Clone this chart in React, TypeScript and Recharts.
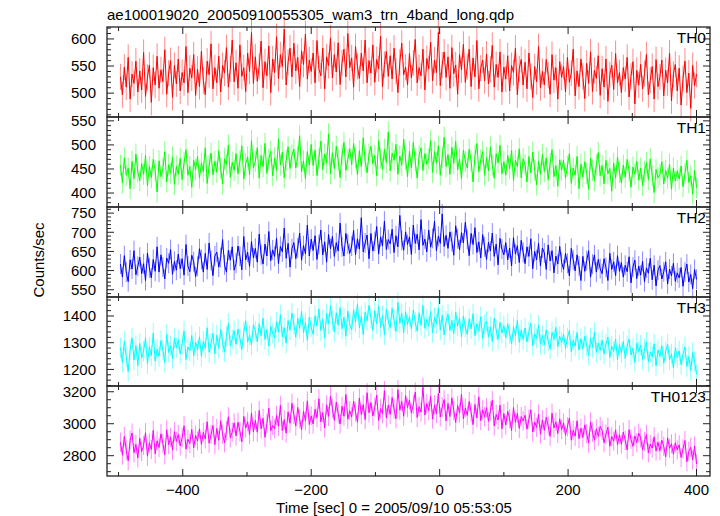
import React from 'react';
import { LineChart, Line, XAxis, YAxis, ErrorBar } from 'recharts';

// ---- data (counts/sec), bins of T_STEP seconds starting at T_START ----
const T_START = -497;
const T_STEP = 3;

const th0 = [
  530, 497, 548, 511, 566, 489, 535, 518, 559, 502,
  541, 506, 575, 494, 529, 552, 483, 547, 515, 568,
  509, 543, 521, 580, 498, 537, 560, 492, 551, 517,
  563, 504, 538, 519, 586, 501, 546, 528, 571, 496,
  544, 512, 577, 523, 497, 559, 534, 591, 508, 547,
  519, 568, 502, 551, 537, 584, 511, 545, 598, 521,
  556, 509, 589, 531, 547, 503, 574, 540, 612, 518,
  567, 522, 549, 596, 510, 558, 532, 587, 501, 563,
  538, 604, 527, 571, 549, 618, 515, 557, 583, 530,
  592, 541, 566, 512, 578, 553, 609, 526, 561, 540,
  574, 519, 597, 545, 532, 583, 508, 567, 551, 602,
  528, 571, 539, 593, 516, 556, 581, 530, 610, 547,
  565, 511, 586, 549, 527, 574, 541, 598, 519, 560,
  537, 589, 520, 562, 545, 605, 512, 553, 577, 531,
  569, 526, 583, 541, 501, 557, 592, 534, 548, 515,
  573, 528, 556, 599, 519, 547, 532, 581, 506, 564,
  545, 594, 523, 561, 538, 612, 514, 552, 576, 529,
  567, 509, 584, 536, 552, 498, 571, 543, 590, 520,
  549, 581, 512, 565, 530, 597, 508, 546, 561, 523,
  572, 517, 544, 588, 511, 553, 529, 576, 502, 548,
  526, 569, 504, 551, 538, 583, 497, 545, 562, 515,
  557, 508, 574, 531, 492, 549, 521, 586, 510, 540,
  515, 562, 533, 498, 571, 524, 547, 489, 558, 529,
  549, 502, 566, 520, 537, 581, 495, 541, 512, 563,
  531, 490, 555, 518, 576, 503, 542, 527, 569, 496,
  545, 511, 563, 485, 534, 552, 507, 573, 519, 538,
  501, 547, 526, 566, 493, 531, 558, 480, 542, 515,
  553, 508, 536, 571, 497, 524, 549, 489, 562, 512,
  530, 561, 495, 542, 519, 574, 486, 535, 553, 504,
  546, 478, 527, 559, 501, 537, 472, 551, 514, 535,
];

const th1 = [
  458, 421, 473, 437, 452, 409, 466, 430, 481, 444,
  426, 461, 439, 478, 415, 455, 432, 470, 447, 402,
  467, 434, 451, 486, 423, 459, 441, 475, 418, 456,
  439, 472, 428, 463, 490, 437, 455, 412, 468, 449,
  476, 431, 462, 445, 494, 420, 457, 483, 438, 466,
  443, 488, 452, 419, 471, 459, 500, 433, 464, 447,
  482, 440, 467, 498, 429, 461, 475, 438, 509, 452,
  466, 494, 431, 478, 455, 503, 441, 470, 487, 436,
  473, 447, 512, 458, 485, 432, 468, 496, 451, 479,
  491, 452, 476, 519, 444, 467, 430, 486, 458, 501,
  457, 489, 436, 472, 508, 449, 481, 462, 523, 440,
  484, 451, 497, 468, 432, 479, 505, 447, 470, 492,
  459, 503, 474, 438, 488, 455, 515, 466, 442, 481,
  497, 461, 478, 436, 509, 472, 450, 491, 463, 527,
  446, 483, 468, 501, 439, 477, 458, 512, 470, 434,
  487, 452, 505, 466, 431, 478, 494, 447, 482, 460,
  471, 509, 443, 486, 462, 498, 437, 474, 516, 455,
  480, 439, 495, 462, 507, 448, 471, 429, 489, 466,
  452, 491, 467, 423, 478, 503, 444, 469, 486, 437,
  474, 446, 496, 458, 431, 482, 463, 499, 440, 465,
  437, 478, 451, 489, 426, 468, 455, 492, 432, 471,
  459, 423, 476, 442, 485, 448, 417, 466, 439, 480,
  445, 473, 428, 461, 490, 434, 457, 414, 469, 448,
  468, 431, 456, 482, 420, 452, 437, 476, 409, 460,
  433, 465, 441, 408, 472, 447, 426, 459, 484, 436,
  457, 419, 468, 440, 451, 404, 462, 431, 475, 443,
  421, 458, 433, 470, 446, 412, 454, 439, 466, 427,
  452, 416, 445, 463, 428, 471, 436, 401, 449, 432,
  438, 465, 419, 447, 431, 460, 408, 452, 425, 446,
  429, 456, 413, 441, 468, 422, 436, 398, 447, 411,
];

const th2 = [
  617, 583, 639, 596, 571, 628, 604, 652, 589, 611,
  635, 592, 618, 574, 646, 607, 581, 629, 598, 662,
  596, 641, 609, 578, 633, 619, 655, 590, 624, 601,
  643, 605, 631, 588, 668, 612, 597, 640, 623, 584,
  611, 657, 629, 596, 645, 603, 672, 626, 587, 638,
  648, 609, 634, 681, 615, 596, 653, 627, 662, 601,
  619, 664, 637, 602, 689, 628, 648, 611, 676, 633,
  658, 622, 695, 641, 617, 669, 638, 702, 626, 654,
  637, 684, 618, 663, 649, 711, 632, 671, 609, 657,
  673, 631, 659, 698, 627, 665, 644, 719, 638, 682,
  652, 691, 629, 668, 706, 641, 675, 622, 694, 657,
  689, 637, 673, 651, 724, 662, 638, 697, 669, 645,
  664, 705, 641, 683, 656, 738, 649, 672, 693, 631,
  697, 651, 676, 715, 643, 688, 664, 729, 655, 681,
  670, 708, 647, 691, 662, 744, 679, 653, 701, 668,
  688, 642, 719, 671, 695, 654, 733, 666, 682, 649,
  706, 661, 684, 729, 652, 690, 671, 748, 663, 692,
  658, 701, 676, 640, 717, 683, 654, 699, 672, 726,
  681, 639, 697, 668, 712, 647, 675, 633, 694, 662,
  629, 674, 651, 698, 637, 669, 615, 684, 656, 641,
  673, 628, 659, 612, 686, 643, 665, 621, 679, 648,
  618, 662, 637, 683, 605, 650, 628, 671, 612, 659,
  646, 603, 667, 625, 652, 594, 638, 617, 663, 621,
  603, 645, 619, 586, 658, 628, 599, 641, 612, 574,
  637, 598, 626, 652, 583, 617, 641, 596, 629, 605,
  592, 631, 608, 574, 645, 603, 623, 587, 639, 598,
  621, 583, 614, 597, 636, 568, 609, 627, 579, 612,
  588, 624, 571, 607, 593, 632, 576, 614, 560, 601,
  613, 578, 597, 623, 565, 604, 586, 619, 572, 594,
  581, 608, 559, 596, 617, 570, 590, 553, 603, 577,
];

const th3 = [
  1281, 1226, 1305, 1247, 1192, 1273, 1318, 1235, 1290, 1214,
  1297, 1243, 1268, 1319, 1221, 1284, 1252, 1336, 1231, 1276,
  1249, 1308, 1272, 1226, 1331, 1264, 1289, 1240, 1316, 1282,
  1311, 1258, 1296, 1344, 1237, 1284, 1269, 1327, 1251, 1302,
  1273, 1322, 1249, 1306, 1281, 1356, 1264, 1297, 1335, 1258,
  1328, 1279, 1349, 1301, 1266, 1324, 1372, 1289, 1313, 1345,
  1294, 1351, 1316, 1275, 1339, 1382, 1302, 1328, 1291, 1367,
  1344, 1303, 1371, 1326, 1392, 1312, 1349, 1288, 1361, 1335,
  1317, 1378, 1339, 1404, 1322, 1356, 1298, 1383, 1347, 1411,
  1369, 1321, 1392, 1354, 1418, 1337, 1375, 1309, 1396, 1358,
  1331, 1401, 1362, 1426, 1345, 1387, 1318, 1409, 1370, 1438,
  1383, 1341, 1412, 1366, 1431, 1352, 1395, 1324, 1418, 1369,
  1348, 1423, 1377, 1445, 1356, 1399, 1331, 1414, 1382, 1440,
  1392, 1346, 1419, 1371, 1437, 1358, 1402, 1329, 1425, 1381,
  1356, 1428, 1384, 1342, 1451, 1373, 1409, 1338, 1416, 1369,
  1397, 1351, 1422, 1376, 1343, 1412, 1365, 1439, 1354, 1388,
  1362, 1417, 1338, 1395, 1371, 1430, 1347, 1403, 1329, 1381,
  1407, 1346, 1383, 1334, 1415, 1362, 1393, 1321, 1400, 1358,
  1331, 1389, 1352, 1408, 1326, 1371, 1343, 1397, 1316, 1368,
  1381, 1322, 1359, 1305, 1392, 1348, 1313, 1376, 1337, 1364,
  1318, 1371, 1334, 1295, 1359, 1326, 1384, 1301, 1347, 1312,
  1355, 1303, 1341, 1372, 1289, 1333, 1316, 1365, 1294, 1327,
  1293, 1348, 1306, 1276, 1339, 1312, 1357, 1285, 1324, 1301,
  1331, 1279, 1318, 1346, 1266, 1309, 1287, 1338, 1272, 1315,
  1276, 1324, 1291, 1252, 1317, 1283, 1339, 1264, 1299, 1271,
  1309, 1258, 1296, 1321, 1245, 1287, 1268, 1314, 1236, 1293,
  1262, 1305, 1241, 1288, 1314, 1254, 1279, 1226, 1298, 1267,
  1291, 1238, 1276, 1302, 1229, 1265, 1247, 1296, 1214, 1273,
  1248, 1289, 1223, 1266, 1295, 1236, 1258, 1205, 1281, 1244,
  1269, 1218, 1257, 1284, 1211, 1248, 1196, 1263, 1229, 1182,
];

const th0123 = [
  2884, 2803, 2921, 2835, 2768, 2897, 2942, 2819, 2871, 2786,
  2909, 2826, 2865, 2944, 2797, 2881, 2839, 2958, 2812, 2893,
  2851, 2937, 2878, 2806, 2962, 2869, 2915, 2834, 2951, 2889,
  2933, 2861, 2912, 2987, 2841, 2903, 2876, 2965, 2849, 2928,
  2892, 2968, 2871, 2946, 2905, 3012, 2878, 2933, 2989, 2869,
  2971, 2896, 3018, 2934, 2881, 2957, 3043, 2912, 2948, 3005,
  2924, 3009, 2951, 2887, 3046, 2973, 3012, 2932, 3068, 2949,
  3021, 2947, 3083, 2968, 3034, 2915, 3001, 3097, 2956, 2989,
  2968, 3052, 2984, 3115, 2957, 3026, 2941, 3074, 3003, 3128,
  3057, 2986, 3102, 3031, 2962, 3078, 3019, 3143, 2995, 3049,
  2998, 3091, 3037, 3156, 3012, 3069, 2974, 3118, 3046, 3172,
  3096, 3021, 3135, 3062, 2998, 3109, 3047, 3183, 3028, 3081,
  3043, 3142, 3075, 3009, 3161, 3057, 3119, 3026, 3194, 3068,
  3132, 3049, 3103, 3178, 3021, 3094, 3063, 3207, 3036, 3117,
  3058, 3164, 3092, 3031, 3213, 3085, 3139, 3047, 3176, 3101,
  3149, 3066, 3121, 3198, 3039, 3107, 3073, 3228, 3054, 3126,
  3082, 3171, 3029, 3118, 3064, 3189, 3042, 3105, 3151, 3017,
  3127, 3045, 3162, 3083, 3008, 3114, 3067, 3185, 3031, 3098,
  3052, 3139, 3071, 2994, 3121, 3036, 3168, 3019, 3087, 3043,
  3101, 3015, 3082, 3147, 2986, 3058, 3023, 3116, 2969, 3064,
  2992, 3078, 3031, 2957, 3102, 3009, 3064, 2971, 3045, 3018,
  3053, 2966, 3029, 3087, 2948, 3011, 2977, 3059, 2935, 3024,
  2958, 3041, 2987, 2921, 3066, 2974, 3012, 2939, 3031, 2963,
  3005, 2928, 2981, 3036, 2897, 2959, 2922, 3018, 2906, 2972,
  2914, 2993, 2938, 2879, 3011, 2946, 2897, 2968, 2921, 2983,
  2957, 2881, 2935, 2978, 2859, 2920, 2891, 2962, 2868, 2931,
  2872, 2948, 2896, 2837, 2963, 2903, 2858, 2924, 2881, 2941,
  2911, 2836, 2889, 2932, 2818, 2873, 2847, 2918, 2829, 2884,
  2831, 2897, 2858, 2793, 2912, 2846, 2874, 2809, 2881, 2836,
  2868, 2789, 2843, 2895, 2762, 2827, 2852, 2774, 2861, 2748,
];

// 1-sigma errors per band (counts/sec)
const errs = [24, 22, 26, 38, 60];

const series = [th0, th1, th2, th3, th0123];
const panelNames = ['TH0', 'TH1', 'TH2', 'TH3', 'TH0123'];
const colors = ['#ff0000', '#00ff00', '#0000ff', '#00ffff', '#ff00ff'];
const errColors = ['#ff8a8a', '#8aff8a', '#8a8aff', '#8affff', '#ff8aff'];

const xMajorTicks = [-400, -200, 0, 200, 400];
const xAllTicks = [-500, -400, -300, -200, -100, 0, 100, 200, 300, 400];
const yMajor = [
  [500, 550, 600],
  [400, 450, 500, 550],
  [550, 600, 650, 700, 750],
  [1200, 1300, 1400],
  [2800, 3000, 3200],
];
const yMinorStep = [10, 10, 10, 20, 50];
const yDomains: [number, number][] = [
  [456, 622],
  [371, 558],
  [531, 766],
  [1138, 1471],
  [2673, 3236],
];
const xDomain: [number, number] = [-518, 421];

const titleText = 'ae100019020_20050910055305_wam3_trn_4band_long.qdp';
const yLabelText = 'Counts/sec';
const xLabelText = 'Time [sec] 0 = 2005/09/10 05:53:05';

// ---- layout ----
const W = 720;
const H = 516;
const PL = 107;
const PR = 710;
const TOPS = [27, 117, 207, 297, 386, 476];
const FONT = '"Liberation Sans", Arial, Helvetica, sans-serif';
const AXIS = '#222';
const MAJ = 7;
const MIN = 4;
const MBOX = 9; // thickness of the mirrored tick axes

function fmt(v: number) {
  return v < 0 ? '\u2212' + Math.abs(v) : String(v);
}

// tick mark renderers: draw a short inward line starting at the axis position
const makeTick = (side: 'l' | 'r' | 't' | 'b', isMajor: (v: number) => boolean) => (props: any) => {
  const { x, y, payload } = props;
  const len = isMajor(payload.value) ? MAJ : MIN;
  let x2 = x;
  let y2 = y;
  if (side === 'l') x2 = x + len;
  if (side === 'r') x2 = x - len;
  if (side === 't') y2 = y + len;
  if (side === 'b') y2 = y - len;
  return <line x1={x} y1={y} x2={x2} y2={y2} stroke={AXIS} strokeWidth={1} />;
};

function Panel({ i }: { i: number }) {
  const top = TOPS[i];
  const h = TOPS[i + 1] - TOPS[i];
  const isBottom = i === series.length - 1;
  const extra = isBottom ? 30 : 0;
  const data = series[i].map((v, k) => ({ t: T_START + k * T_STEP, v, e: errs[i] }));
  const [d0, d1] = yDomains[i];
  const step = yMinorStep[i];
  const majors = yMajor[i];
  const yAll: number[] = [];
  for (let v = Math.ceil(d0 / step) * step; v <= d1; v += step) yAll.push(v);
  const isYMajor = (v: number) => majors.includes(v);
  const isXMajor = (v: number) => xMajorTicks.includes(v);
  const tickFont = { fontSize: 15, fontFamily: FONT, fill: '#000' };

  const mirrorY = (id: string, orientation: 'left' | 'right') => (
    <YAxis
      key={id}
      yAxisId={id}
      orientation={orientation}
      mirror
      width={MBOX}
      type="number"
      domain={[d0, d1]}
      allowDataOverflow
      ticks={yAll}
      interval={0}
      tickLine={false}
      tickSize={0}
      tickMargin={0}
      axisLine={false}
      tick={makeTick(orientation === 'left' ? 'l' : 'r', isYMajor)}
    />
  );
  const mirrorX = (id: string, orientation: 'top' | 'bottom') => (
    <XAxis
      key={id}
      xAxisId={id}
      orientation={orientation}
      mirror
      height={MBOX}
      type="number"
      dataKey="t"
      domain={xDomain}
      allowDataOverflow
      ticks={xAllTicks}
      interval={0}
      tickLine={false}
      tickSize={0}
      tickMargin={0}
      axisLine={false}
      tick={makeTick(orientation === 'top' ? 't' : 'b', isXMajor)}
    />
  );

  return (
    <div style={{ position: 'absolute', left: 0, top, width: W }}>
      <LineChart
        width={W}
        height={h + extra}
        data={data}
        margin={{ top: 0, right: W - PR, bottom: 0, left: 0 }}
      >
        <XAxis
          xAxisId="main"
          type="number"
          dataKey="t"
          domain={xDomain}
          allowDataOverflow
          ticks={xMajorTicks}
          interval={0}
          height={isBottom ? extra : 1}
          hide={!isBottom}
          axisLine={false}
          tickLine={false}
          tickSize={6}
          tickMargin={2}
          tickFormatter={fmt}
          tick={tickFont}
        />
        <YAxis
          yAxisId="main"
          type="number"
          domain={[d0, d1]}
          allowDataOverflow
          ticks={majors}
          interval={0}
          width={PL}
          axisLine={false}
          tickLine={false}
          tickSize={6}
          tickMargin={5}
          tick={tickFont}
        />
        {mirrorY('l', 'left')}
        {mirrorY('r', 'right')}
        {mirrorX('b', 'bottom')}
        {mirrorX('t', 'top')}
        {/* error bars (bound to the left/bottom tick axes, same domains) */}
        <Line
          xAxisId="b"
          yAxisId="l"
          dataKey="v"
          stroke="none"
          dot={false}
          activeDot={false}
          isAnimationActive={false}
          legendType="none"
        >
          <ErrorBar dataKey="e" width={0} stroke={errColors[i]} strokeWidth={1} direction="y" />
        </Line>
        {/* invisible carrier for the top/right tick axes */}
        <Line
          xAxisId="t"
          yAxisId="r"
          dataKey="v"
          stroke="none"
          dot={false}
          activeDot={false}
          isAnimationActive={false}
          legendType="none"
        />
        <Line
          xAxisId="main"
          yAxisId="main"
          dataKey="v"
          type="linear"
          stroke={colors[i]}
          strokeWidth={1}
          dot={false}
          activeDot={false}
          isAnimationActive={false}
        />
      </LineChart>
    </div>
  );
}

export default function App() {
  return (
    <div
      style={{
        position: 'absolute',
        left: 0,
        top: 0,
        width: W,
        height: H,
        background: '#fff',
        fontFamily: FONT,
        overflow: 'hidden',
      }}
    >
      <style>{'.recharts-surface{overflow:visible}'}</style>
      {series.map((_, i) => (
        <Panel key={i} i={i} />
      ))}
      <svg
        width={W}
        height={H}
        style={{ position: 'absolute', left: 0, top: 0, pointerEvents: 'none' }}
      >
        <text x={107} y={20} fontSize={15} fontFamily={FONT} fill="#000">
          {titleText}
        </text>
        <text
          transform="translate(44,260) rotate(-90)"
          textAnchor="middle"
          fontSize={15}
          fontFamily={FONT}
          fill="#000"
        >
          {yLabelText}
        </text>
        <text x={394} y={513} textAnchor="middle" fontSize={15} fontFamily={FONT} fill="#000">
          {xLabelText}
        </text>
        {series.map((_, i) => (
          <g key={i}>
            <rect
              x={PL}
              y={TOPS[i]}
              width={PR - PL}
              height={TOPS[i + 1] - TOPS[i]}
              fill="none"
              stroke={AXIS}
              strokeWidth={1.3}
            />
            <text
              x={706}
              y={TOPS[i] + 16}
              textAnchor="end"
              fontSize={15.5}
              fontFamily={FONT}
              fill="#000"
            >
              {panelNames[i]}
            </text>
          </g>
        ))}
      </svg>
    </div>
  );
}
